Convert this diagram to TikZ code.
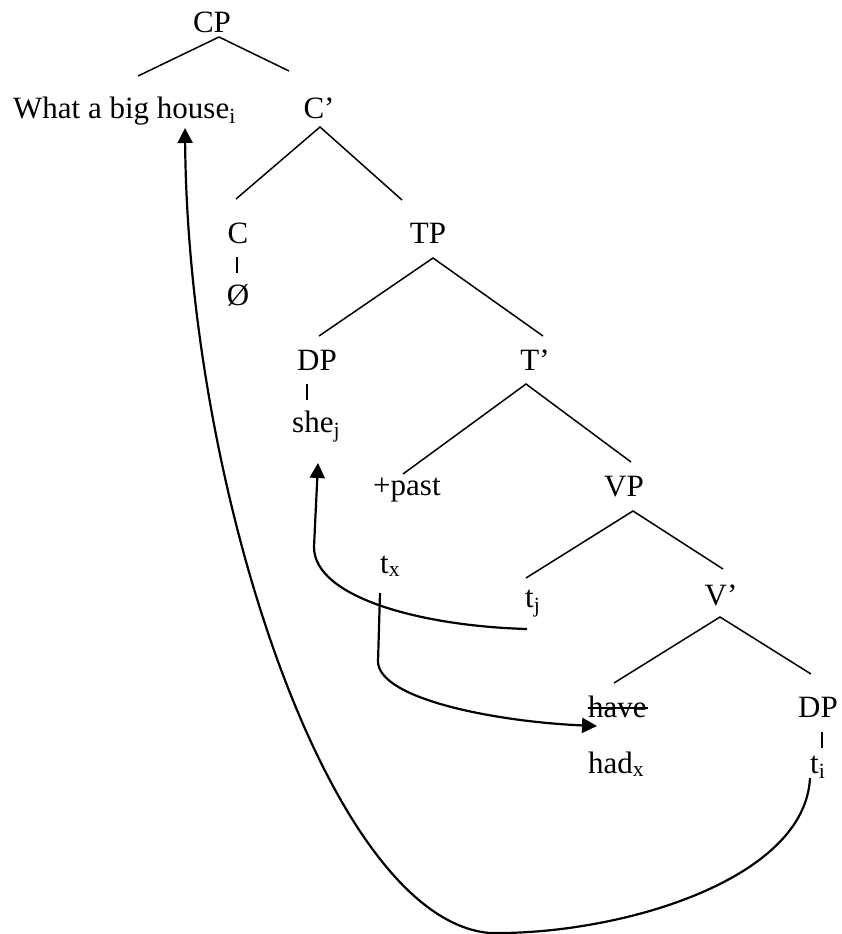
\documentclass[tikz,border=0pt]{standalone}
\usepackage{fontspec}
\setmainfont{Liberation Serif}
\usetikzlibrary{arrows.meta}
\begin{document}
\begin{tikzpicture}[x=1pt,y=-1pt,
  lbl/.style={inner sep=0pt,anchor=base,font=\fontsize{31}{37}\selectfont},
  lblw/.style={inner sep=0pt,anchor=base west,font=\fontsize{31}{37}\selectfont},
  branch/.style={line width=1.5pt},
  move/.style={line width=2.2pt,-{Triangle[length=15pt,width=15pt]}},
  movenotip/.style={line width=2.2pt}]
\useasboundingbox (0,0) rectangle (841,934);
% labels
\node[lbl]  (CP)   at (212,33)  {CP};
\node[lblw] (WH)   at (13,118)  {What a big house\textsubscript{i}};
\node[lbl]  (Cbar) at (319,118) {C’};
\node[lbl]  (C)    at (238,243) {C};
\node[lbl]  (null) at (238,305) {Ø};
\node[lbl]  (TP)   at (428,243) {TP};
\node[lbl]  (DP1)  at (317,370) {DP};
\node[lblw] (she)  at (292,432) {she\textsubscript{j}};
\node[lbl]  (Tbar) at (535,370) {T’};
\node[lblw] (past) at (373,495) {+past};
\node[lbl]  (VP)   at (624,496) {VP};
\node[lblw] (tx)   at (380,573) {t\textsubscript{x}};
\node[lblw] (tj)   at (525,607) {t\textsubscript{j}};
\node[lbl]  (Vbar) at (721,605) {V’};
\node[lblw] (have) at (588,717) {have};
\node[lbl]  (DP2)  at (818,717) {DP};
\node[lblw] (had)  at (588,773) {had\textsubscript{x}};
\node[lblw] (ti)   at (810,773) {t\textsubscript{i}};
% strike through "have"
\draw[line width=1.5pt] (have.base west) ++(0,-9) -- ++(60,0);
% branch coordinates
\coordinate (cpA) at (219,37);  \coordinate (cpL) at (138,76);  \coordinate (cpR) at (289,71);
\coordinate (cbA) at (320,127); \coordinate (cbL) at (236,199); \coordinate (cbR) at (402,200);
\coordinate (cT) at (237,257);  \coordinate (cB) at (237,273);
\coordinate (tpA) at (433,258); \coordinate (tpL) at (319,336); \coordinate (tpR) at (543,336);
\coordinate (dT) at (307,384);  \coordinate (dB) at (307,400);
\coordinate (tbA) at (526,384); \coordinate (tbL) at (403,474); \coordinate (tbR) at (631,462);
\coordinate (vpA) at (633,511); \coordinate (vpL) at (526,578); \coordinate (vpR) at (723,569);
\coordinate (vbA) at (720,617); \coordinate (vbL) at (614,683); \coordinate (vbR) at (811,674);
\coordinate (d2T) at (822,732); \coordinate (d2B) at (822,748);
\draw[branch] (cpL) -- (cpA) -- (cpR);
\draw[branch] (cbL) -- (cbA) -- (cbR);
\draw[branch] (cT) -- (cB);
\draw[branch] (tpL) -- (tpA) -- (tpR);
\draw[branch] (dT) -- (dB);
\draw[branch] (tbL) -- (tbA) -- (tbR);
\draw[branch] (vpL) -- (vpA) -- (vpR);
\draw[branch] (vbL) -- (vbA) -- (vbR);
\draw[branch] (d2T) -- (d2B);
% movement arrows
\coordinate (tjS) at (527,629);
\coordinate (sheT) at (318,463);
\draw[move] (tjS) .. controls (420,626) and (314,597) .. (314,547) -- (sheT);
\coordinate (txS) at (380,593);
\coordinate (haveT) at (597,726);
\draw[move] (txS) -- (378,662) .. controls (380,700) and (500,722) .. (haveT);
\coordinate (tiS) at (810,778);
\coordinate (whT) at (185,128);
\draw[move] (tiS) .. controls (805,880) and (620,935) .. (490,933)
  .. controls (330,920) and (188,490) .. (whT);
\end{tikzpicture}
\end{document}
